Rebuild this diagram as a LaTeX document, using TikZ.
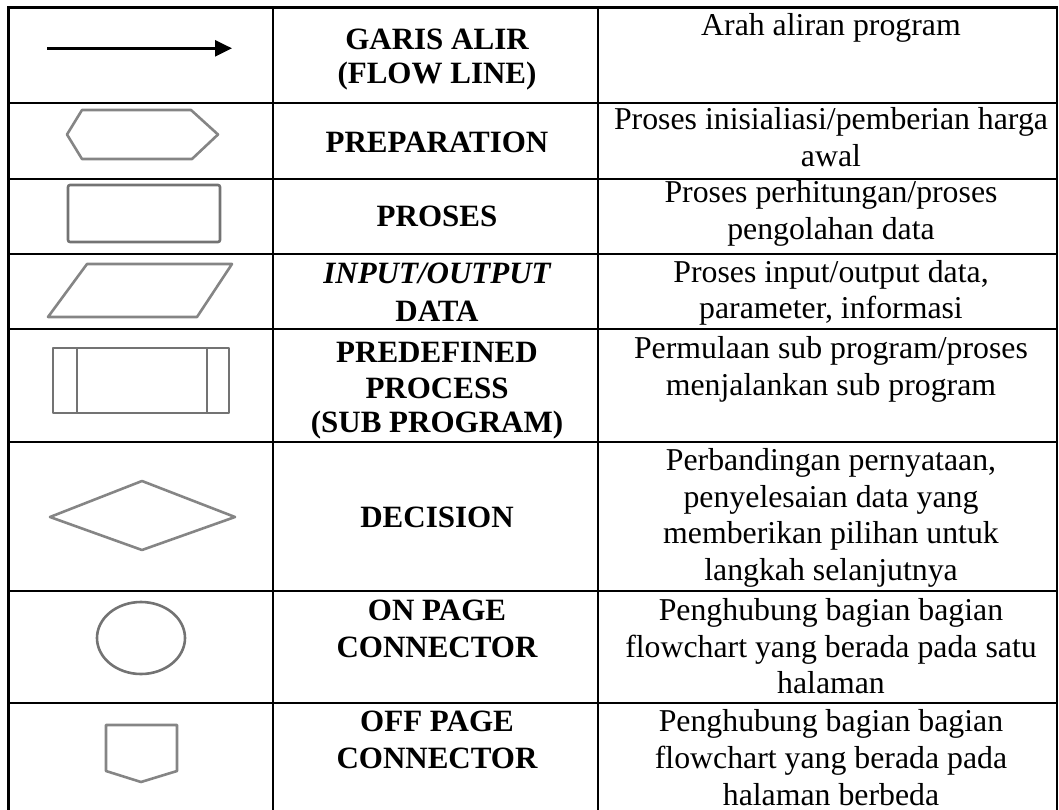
\documentclass[tikz,border=0pt]{standalone}
\usepackage{fontspec}
\setmainfont{Liberation Serif}
\usetikzlibrary{arrows.meta}
\newcommand\lblfont{\fontsize{31}{36}\selectfont\bfseries}
\newcommand\dscfont{\fontsize{31.8}{36}\selectfont}
\begin{document}
\begin{tikzpicture}[x=1pt,y=-1pt,
  grid/.style={line width=2.6pt,black},
  sym/.style={line width=2.6pt,draw=black!48,line join=round},
  lbl/.style={font=\lblfont,anchor=base,inner sep=0pt},
  dsc/.style={font=\dscfont,anchor=base,inner sep=0pt}]
\useasboundingbox (0,0) rectangle (1059,810);
% table grid
\foreach \yy in {7.5,103,179,254,329,442,591,703}
  \draw[grid] (7.2,\yy) -- (1058.3,\yy);
\foreach \xx in {8.5,273,598,1057}
  \draw[grid] (\xx,6.2) -- (\xx,812);
% flow line
\coordinate (a1) at (47,48.3);
\coordinate (a2) at (232,48.3);
\draw[line width=2.8pt,-{Triangle[length=17pt,width=16pt]}] (a1) -- (a2);
% preparation
\draw[sym] (67,134.5) -- (82,110) -- (191,110) -- (218,134.5) -- (192,159) -- (82,159) -- cycle;
% process
\draw[sym,rounded corners=2pt,draw=black!55] (68,185) rectangle (220,242);
% input/output
\draw[sym] (87,264) -- (232,264) -- (197,317) -- (48,317) -- cycle;
% predefined process
\draw[sym,draw=black!55] (53,348) rectangle (229,413);
\draw[sym,draw=black!55] (77,348) -- (77,413);
\draw[sym,draw=black!55] (207,348) -- (207,413);
% decision
\draw[sym] (50,517) -- (142,481) -- (235,517) -- (142,550) -- cycle;
% on page connector
\draw[sym,draw=black!55] (141,638) ellipse [x radius=44, y radius=36];
% off page connector
\draw[sym] (106,725) -- (177,725) -- (177,771) -- (141,782) -- (106,771) -- cycle;
% column 2 labels
\node[lbl] (l1) at (437,50) {GARIS ALIR};
\node[lbl] (l2) at (437,84) {(FLOW LINE)};
\node[lbl] (l3) at (437,153) {PREPARATION};
\node[lbl] (l4) at (437,227) {PROSES};
\node[lbl] (l5) at (437,283) {\itshape INPUT/OUTPUT};
\node[lbl] (l6) at (437,321) {DATA};
\node[lbl] (l7) at (437,362) {PREDEFINED};
\node[lbl] (l8) at (437,398) {PROCESS};
\node[lbl] (l9) at (437,432) {(SUB PROGRAM)};
\node[lbl] (l10) at (437,527) {DECISION};
\node[lbl] (l11) at (437,620) {ON PAGE};
\node[lbl] (l12) at (437,657) {CONNECTOR};
\node[lbl] (l13) at (437,731) {OFF PAGE};
\node[lbl] (l14) at (437,768) {CONNECTOR};
% column 3 descriptions
\foreach \yy/\tt [count=\i] in {
  36/{Arah aliran program},
  130/{Proses inisialiasi/pemberian harga},
  167/{awal},
  203/{Proses perhitungan/proses},
  240/{pengolahan data},
  282/{Proses input/output data,},
  318/{parameter, informasi},
  358/{Permulaan sub program/proses},
  395/{menjalankan sub program},
  470/{Perbandingan pernyataan,},
  507/{penyelesaian data yang},
  543/{memberikan pilihan untuk},
  580/{langkah selanjutnya},
  620/{Penghubung bagian bagian},
  657/{flowchart yang berada pada satu},
  693/{halaman},
  731/{Penghubung bagian bagian},
  768/{flowchart yang berada pada},
  805/{halaman berbeda}}
  \node[dsc] (d\i) at (831,\yy) {\tt};
\end{tikzpicture}
\end{document}
